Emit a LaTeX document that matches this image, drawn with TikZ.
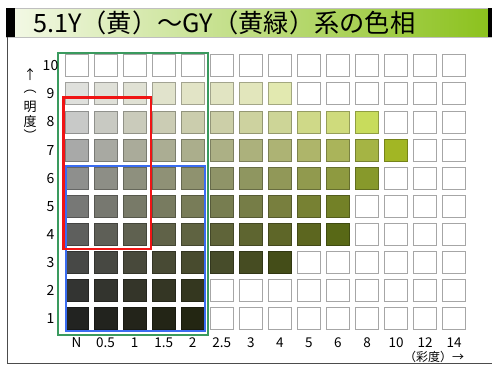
\documentclass[tikz,border=0pt]{standalone}
\usepackage{fontspec}
\setmainfont{Noto Sans CJK JP}
\usetikzlibrary{calc}
\begin{document}
\begin{tikzpicture}[x=1pt,y=-1pt,
  cell/.style={draw=gray!70, line width=1pt, fill=white, minimum width=23pt, minimum height=22pt, inner sep=0pt, outer sep=0pt},
  ccell/.style={line width=0.9pt, minimum width=23pt, minimum height=22pt, inner sep=0pt, outer sep=0pt},
  ylab/.style={font=\fontsize{14}{14}\selectfont, inner sep=0pt},
  xlab/.style={font=\fontsize{13.5}{14}\selectfont, inner sep=0pt},
  axtitle/.style={font=\fontsize{13}{13}\selectfont, inner sep=0pt},
  frameline/.style={draw=gray!60!black, line width=1pt},
  zone/.style={line width=2pt}]
\definecolor{zgreen}{HTML}{3A9A5E}
\definecolor{zred}{HTML}{F01414}
\definecolor{zblue}{HTML}{3A6CF0}
\definecolor{barl}{HTML}{F2F8E4}
\definecolor{barr}{HTML}{8CC21E}
\useasboundingbox (0,0) rectangle (492,365);
\fill[white] (0,0) rectangle (492,365);
% title bar
\shade[left color=barl, right color=barr] (15,8) rectangle (488,37);
\draw[gray!50, line width=0.5pt] (6,8) rectangle (492,37);
\fill[black] (6,8) rectangle (15,37);
\fill[black] (488,8) rectangle (492,37);
\node[anchor=west, inner sep=0pt] (title) at (33,23)
  {\resizebox{382pt}{!}{5.1Y（黄）～GY（黄緑）系の色相}};
% frame
\coordinate (ftop) at (7,37);
\coordinate (fcorner) at (7,363);
\coordinate (fright) at (492,363);
\draw[frameline] (ftop) -- (fcorner) -- (fright);
% white cells
\foreach \i in {0,...,13}
  \foreach \v in {1,...,10}
    \node[cell] (c-\i-\v) at ({76.5+29.05*\i},{318.7-28.1*(\v-1)}) {};
% coloured cells
\foreach \v/\cols in {
 9/{DFE0DC,DFE0D8,E0E1D4,E1E3CC,E2E4C6,E1E4C2,E2E6BC,E2E9B0},
 8/{C8C9C8,C8C9C2,CACBBB,CBCCB4,CBCDAD,CCCFA8,CDD29F,CDD597,CFD988,CFDB7C,C8DC5C},
 7/{A8A9A8,A8A9A2,AAAB9A,ABAD93,ABAE8C,ACB085,ACB17C,ADB374,AEB56A,AAB45A,A5B444,A2B624},
 6/{8E8F8D,8D8E86,8E907E,8F9176,8F926F,8F9468,8F9660,919858,919A4E,8E9A40,87992B},
 5/{777876,777870,787A68,787B60,787C58,777D50,767D47,787F3E,778133,738127},
 4/{5E5F5D,5E5F57,5F6150,606248,5F6341,5F6439,5E6530,5E6628,5C661F,586816},
 3/{474846,474842,48493B,484A34,484B2E,474C2A,464C22,444D18},
 2/{333432,33342E,343529,343624,34371F},
 1/{222321,22231E,23241A,232516,232612}}{
  \foreach \c [count=\i from 0] in \cols {
    \definecolor{sq}{HTML}{\c}
    \node[ccell, fill=sq, draw=sq!72!black] (k-\i-\v) at ({76.5+29.05*\i},{318.7-28.1*(\v-1)}) {};
  }
}
% zone frames
\node[draw=zgreen, zone, inner sep=0pt, fit/.style={}, minimum width=150pt, minimum height=282pt, anchor=north west] (zg) at (57,52) {};
\node[draw=zblue, zone, inner sep=0pt, minimum width=139pt, minimum height=164.5pt, anchor=north west] (zb) at (65,165) {};
\node[draw=zred, line width=2.5pt, inner sep=0pt, minimum width=87.5pt, minimum height=151.5pt, anchor=north west] (zr) at (62,96) {};
% value labels
\foreach \v in {1,...,10}
  \node[ylab] (y\v) at (50.5,{318.7-28.1*(\v-1)}) {\v};
% chroma labels
\foreach \t [count=\i from 0] in {N,0.5,1,1.5,2,2.5,3,4,5,6,8,10,12,14}
  \node[xlab] (x\i) at ({76.5+29.05*\i},343) {\t};
% axis titles
\node[axtitle] (up) at (30,75) {↑};
\node[axtitle] (p1) at (30,92) {︵};
\node[axtitle] (mei) at (30,107) {明};
\node[axtitle] (do) at (30,122) {度};
\node[axtitle] (p2) at (30,135) {︶};
\node[font=\fontsize{12}{12}\selectfont, inner sep=0pt] (chroma) at (434,357) {（彩度）→};
\end{tikzpicture}
\end{document}
